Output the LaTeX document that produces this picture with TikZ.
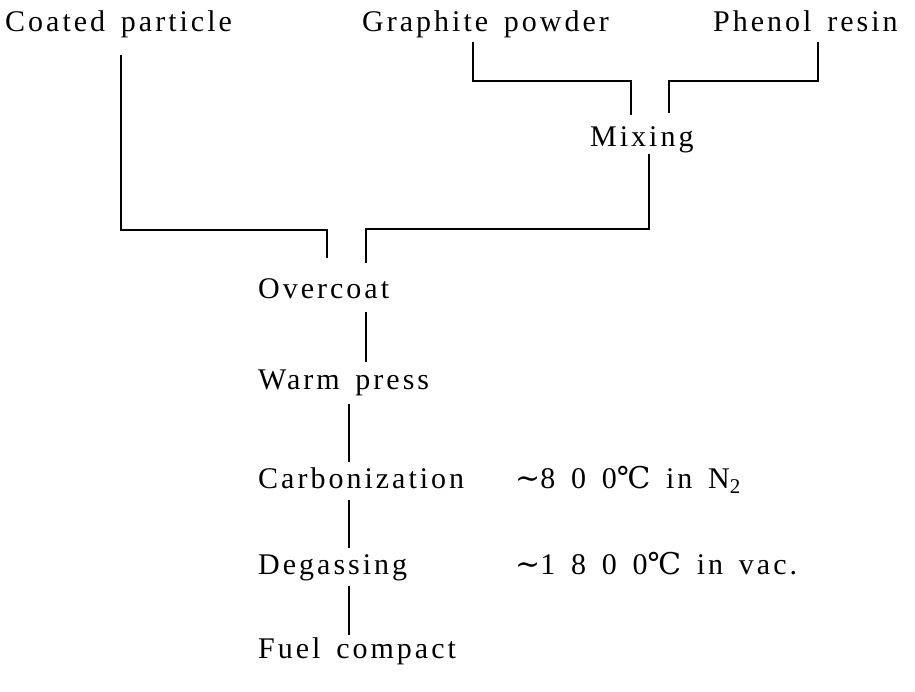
\documentclass[tikz,border=0pt]{standalone}
\usepackage{fontspec}
\setmainfont[LetterSpace=10,WordSpace=1.5]{Liberation Serif}
\newfontfamily\symf{DejaVu Serif}
\begin{document}
\begin{tikzpicture}[x=1pt,y=-1pt,
  lbl/.style={anchor=base west,inner sep=0pt,font=\fontsize{30}{32}\selectfont},
  ln/.style={line width=1.1pt}]
\useasboundingbox (0,0) rectangle (915,692);
\node[lbl] (cp) at (5,32) {Coated particle};
\node[lbl] (gp) at (362,32) {Graphite powder};
\node[lbl] (pr) at (713,32) {Phenol resin};
\node[lbl] (mx) at (590,147) {Mixing};
\node[lbl] (oc) at (258,299) {Overcoat};
\node[lbl] (wp) at (258,389) {Warm press};
\node[lbl] (cb) at (258,488) {Carbonization};
\node[lbl] (dgs) at (258,574) {Degassing};
\node[lbl] (fc) at (258,658) {Fuel compact};
\node[lbl] (c1) at (515,488) {{\symf\char"223C}8 0 0{\symf ℃} in N\textsubscript{2}};
\node[lbl] (c2) at (515,574) {{\symf\char"223C}1 8 0 0{\symf ℃} in vac.};
% connectors
\coordinate (cpd) at (121,55);
\coordinate (gpd) at (473,42);
\coordinate (prd) at (818,42);
\draw[ln] (cpd) |- (327,230) -- (327,258);
\draw[ln] (gpd) |- (631,81) -- (631,115);
\draw[ln] (prd) |- (669,81) -- (669,113);
\draw[ln] (649,154) -- (649,229) -| (366,263);
\draw[ln] (366,312) -- (366,362);
\draw[ln] (349,404) -- (349,462);
\draw[ln] (349,500) -- (349,548);
\draw[ln] (349,586) -- (349,635);
\end{tikzpicture}
\end{document}
